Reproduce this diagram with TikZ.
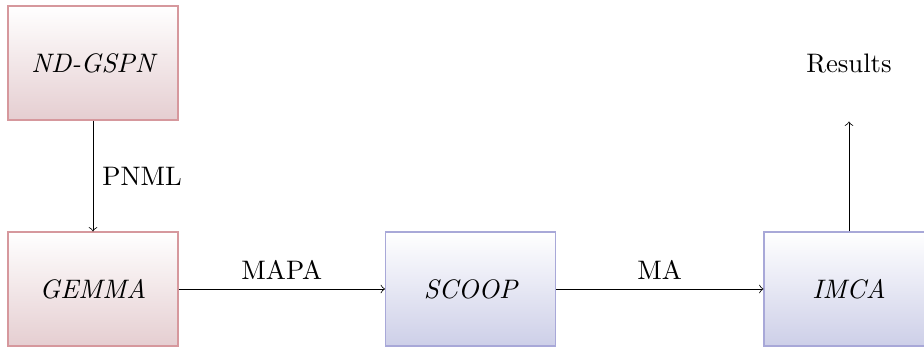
\documentclass[tikz,border=0pt]{standalone}
\usepackage{tikz}
\definecolor{petribot}{RGB}{229,206,209}
\definecolor{petriedge}{RGB}{214,152,157}
\definecolor{toolbot}{RGB}{205,207,232}
\definecolor{tooledge}{RGB}{168,168,216}
\begin{document}
\begin{tikzpicture}[x=0.374pt,y=-0.374pt,
  box/.style={minimum width=170*0.374pt,minimum height=114*0.374pt,inner sep=0pt,font=\itshape},
  petri/.style={box,draw=petriedge,top color=white,bottom color=petribot},
  tool/.style={box,draw=tooledge,top color=white,bottom color=toolbot},
  flow/.style={->,line width=0.3pt}]
  \useasboundingbox (0,0) rectangle (924,347);
  \begin{scope}
    \clip (0,0) rectangle (924,347);
    \node[petri] (nd) at (93,63) {ND-GSPN};
    \node[petri] (gemma) at (93,289) {GEMMA};
    \node[tool] (scoop) at (470.5,289) {SCOOP};
    \node[tool] (imca) at (849,289) {IMCA};
    \node[box,font=\normalfont] (res) at (849,64) {Results};
    \draw[flow] (nd) -- node[right] {PNML} (gemma);
    \draw[flow] (gemma) -- node[above] {MAPA} (scoop);
    \draw[flow] (scoop) -- node[above] {MA} (imca);
    \draw[flow] (imca.north) -- (res.south);
  \end{scope}
\end{tikzpicture}
\end{document}
